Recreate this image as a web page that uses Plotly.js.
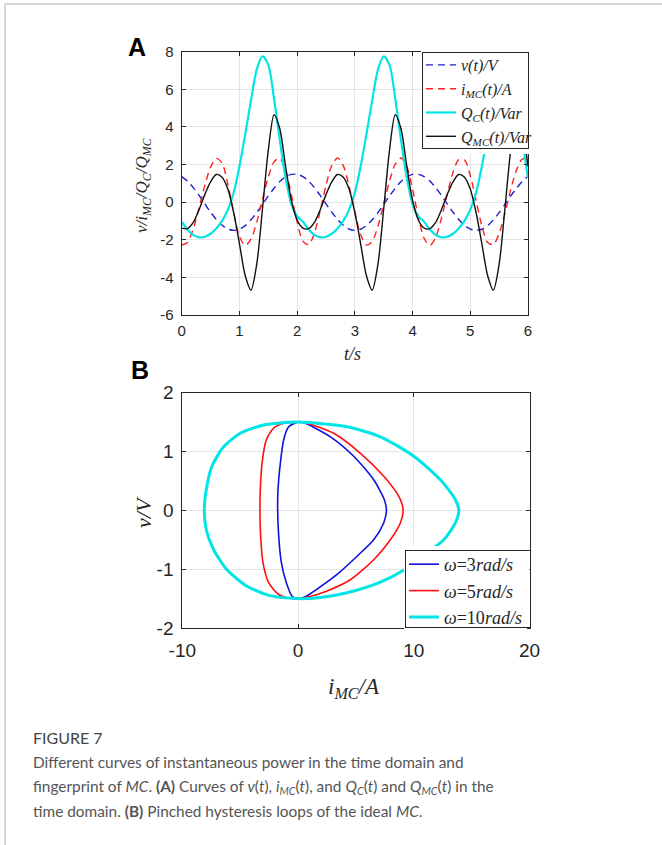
<!DOCTYPE html>
<html>
<head>
<meta charset="utf-8">
<script src="https://cdn.plot.ly/plotly-3.0.1.min.js"></script>
<style>
html,body{margin:0;padding:0;background:#fff;overflow:hidden;}
#chart{position:absolute;left:0;top:0;width:662px;height:845px;}
#frame{position:absolute;left:4px;top:3px;width:700px;height:900px;border-top:2px solid #d6d6d6;border-left:2px solid #d6d6d6;pointer-events:none;z-index:5;}
</style>
</head>
<body>
<div id="chart"></div>
<div id="frame"></div>
<script>
// ---------- Panel A data (time domain) ----------
const tSec = [0,0.1,0.2,0.3,0.4,0.5,0.6,0.7,0.8,0.9,1.0,1.1,1.2,1.3,1.4,1.5,1.6,1.7,1.8,1.9,2.0,
  2.1,2.2,2.3,2.4,2.5,2.6,2.7,2.8,2.9,3.0,3.1,3.2,3.3,3.4,3.5,3.6,3.7,3.8,3.9,4.0,
  4.1,4.2,4.3,4.4,4.5,4.6,4.7,4.8,4.9,5.0,5.1,5.2,5.3,5.4,5.5,5.6,5.7,5.8,5.9,6.0];

const vVolt = [1.36,1.12,0.77,0.36,-0.09,-0.53,-0.92,-1.23,-1.43,-1.50,-1.44,-1.25,-0.94,-0.56,-0.12,0.33,0.74,1.10,1.35,1.48,1.48,
  1.36,1.12,0.77,0.36,-0.09,-0.53,-0.92,-1.23,-1.43,-1.50,-1.44,-1.25,-0.94,-0.56,-0.12,0.33,0.74,1.10,1.35,1.48,
  1.48,1.36,1.12,0.77,0.36,-0.09,-0.53,-0.92,-1.23,-1.43,-1.50,-1.44,-1.25,-0.94,-0.56,-0.12,0.33,0.74,1.10,1.37];

const iMC = [-2.28,-2.14,-1.42,-0.31,0.89,1.86,2.33,2.07,0.96,-0.55,-1.81,-2.30,-1.97,-1.06,0.15,1.33,2.14,2.33,1.69,0.40,-1.05,
  -2.07,-2.26,-1.64,-0.45,0.90,1.95,2.35,1.94,0.85,-0.53,-1.72,-2.28,-2.09,-1.28,-0.10,1.11,2.02,2.35,1.89,0.69,
  -0.78,-1.92,-2.30,-1.87,-0.86,0.41,1.58,2.26,2.24,1.42,0.10,-1.26,-2.14,-2.25,-1.66,-0.60,0.65,1.71,2.29,2.30];

const qC = [-1.04,-1.45,-1.74,-1.87,-1.84,-1.68,-1.40,-1.00,-0.40,0.50,1.90,3.60,5.40,7.05,7.75,7.30,5.50,3.30,1.30,-0.10,-0.75,
  -1.04,-1.45,-1.74,-1.87,-1.84,-1.68,-1.40,-1.00,-0.40,0.50,1.90,3.60,5.40,7.05,7.75,7.30,5.50,3.30,1.30,-0.10,
  -0.75,-1.04,-1.45,-1.74,-1.87,-1.84,-1.68,-1.40,-1.00,-0.40,0.50,1.90,3.60,5.40,7.05,7.75,7.30,5.50,3.30,1.30];

const qMC = [-1.38,-1.41,-1.08,-0.40,0.40,1.08,1.47,1.33,0.70,-0.55,-2.20,-3.90,-4.68,-3.30,-0.35,2.75,4.65,3.90,1.90,0.10,-0.95,
  -1.38,-1.41,-1.08,-0.40,0.40,1.08,1.47,1.33,0.70,-0.55,-2.20,-3.90,-4.68,-3.30,-0.35,2.75,4.65,3.90,1.90,0.10,
  -0.95,-1.38,-1.41,-1.08,-0.40,0.40,1.08,1.47,1.33,0.70,-0.55,-2.20,-3.90,-4.68,-3.30,-0.35,2.75,4.65,3.90,1.90];

const namesA = ['<i>v(t)/V</i>', '<i>i</i><sub><i>MC</i></sub><i>(t)/A</i>',
  '<i>Q</i><sub><i>C</i></sub><i>(t)/Var</i>', '<i>Q</i><sub><i>MC</i></sub><i>(t)/Var</i>'];

const ticksAx = [0,1,2,3,4,5,6];
const ticksAxText = ['0','1','2','3','4','5','6'];
const ticksAy = [-6,-4,-2,0,2,4,6,8];
const ticksAyText = ['-6','-4','-2','0','2','4','6','8'];

// ---------- Panel B data (pinched loops: i_MC on x, v on y) ----------
const loop3_i = [0,0.63,2.8,4.81,6.54,7.46,7.64,7.41,6.54,5.10,3.37,1.64,0.63,0,
  -0.52,-1.01,-1.44,-1.67,-1.76,-1.73,-1.53,-1.24,-0.81,0];
const loop3_v = [1.5,1.48,1.25,0.92,0.52,0.18,0,-0.21,-0.50,-0.78,-1.09,-1.34,-1.47,-1.5,
  -1.46,-1.23,-0.89,-0.44,0,0.35,0.80,1.20,1.42,1.5];

const loop5_i = [0,0.78,3.08,5.39,7.41,8.70,9.08,8.85,7.98,6.54,4.52,2.51,0.92,0,
  -0.81,-1.67,-2.54,-3.03,-3.23,-3.29,-3.26,-3.11,-2.74,-2.10,-1.24,0];
const loop5_v = [1.5,1.48,1.31,0.97,0.58,0.24,0,-0.21,-0.50,-0.84,-1.18,-1.37,-1.47,-1.5,
  -1.49,-1.43,-1.23,-0.89,-0.44,0,0.35,0.80,1.20,1.40,1.48,1.5];

const loop10_i = [0,4.24,7.12,10.0,12.3,13.6,13.89,13.6,12.6,11.15,9.19,7.12,4.24,1.93,0,
  -2.39,-4.41,-6.14,-7.29,-7.93,-8.10,-7.93,-7.44,-6.43,-4.99,-2.97,0];
const loop10_v = [1.5,1.42,1.25,0.92,0.52,0.18,0,-0.21,-0.50,-0.72,-1.01,-1.22,-1.40,-1.48,-1.5,
  -1.45,-1.29,-1.01,-0.67,-0.33,0,0.35,0.75,1.08,1.31,1.45,1.5];

const namesB = ['<i>ω</i>=3<i>rad/s</i>', '<i>ω</i>=5<i>rad/s</i>', '<i>ω</i>=10<i>rad/s</i>'];

const ticksBx = [-10,0,10,20];
const ticksBxText = ['-10','0','10','20'];
const ticksBy = [-2,-1,0,1,2];
const ticksByText = ['-2','-1','0','1','2'];

// ---------- traces ----------
const data = [
  {x:tSec, y:vVolt, name:namesA[0], type:'scatter', mode:'lines', xaxis:'x', yaxis:'y', legend:'legend',
   line:{color:'#1f1fd0', width:1.4, dash:'7px,5px', shape:'spline', smoothing:0.8}},
  {x:tSec, y:iMC, name:namesA[1], type:'scatter', mode:'lines', xaxis:'x', yaxis:'y', legend:'legend',
   line:{color:'#ff2020', width:1.4, dash:'7px,5px', shape:'spline', smoothing:0.8}},
  {x:tSec, y:qC, name:namesA[2], type:'scatter', mode:'lines', xaxis:'x', yaxis:'y', legend:'legend',
   line:{color:'#00e5e5', width:2.2, shape:'spline', smoothing:0.8}},
  {x:tSec, y:qMC, name:namesA[3], type:'scatter', mode:'lines', xaxis:'x', yaxis:'y', legend:'legend',
   line:{color:'#111111', width:1.4, shape:'spline', smoothing:0.8}},
  {x:loop3_i, y:loop3_v, name:namesB[0], type:'scatter', mode:'lines', xaxis:'x2', yaxis:'y2', legend:'legend2',
   line:{color:'#1010e0', width:1.6, shape:'spline', smoothing:0.7}},
  {x:loop5_i, y:loop5_v, name:namesB[1], type:'scatter', mode:'lines', xaxis:'x2', yaxis:'y2', legend:'legend2',
   line:{color:'#ff1010', width:1.6, shape:'spline', smoothing:0.7}},
  {x:loop10_i, y:loop10_v, name:namesB[2], type:'scatter', mode:'lines', xaxis:'x2', yaxis:'y2', legend:'legend2',
   line:{color:'#00e5e5', width:3, shape:'spline', smoothing:0.7}}
];

const W = 662, H = 845;
const axC = '#262626';
const sans = 'Liberation Sans, Arial, sans-serif';
const serif = 'Liberation Serif, Times New Roman, serif';
const tickFontA = {family:sans, size:15, color:axC};
const tickFontB = {family:sans, size:19, color:axC};

function axisBase(extra){
  return Object.assign({
    showline:true, linecolor:axC, linewidth:1, mirror:'ticks',
    ticks:'inside', ticklen:4, tickcolor:axC, tickmode:'array',
    showgrid:true, gridcolor:'#e4e4e4', gridwidth:1, zeroline:false,
    automargin:false, fixedrange:true
  }, extra);
}
function px(x){return x/W;}
function py(y){return 1-y/H;}
function note(text, x, y, font, extra){
  return Object.assign({text:text, xref:'paper', yref:'paper', x:px(x), y:py(y),
    xanchor:'center', yanchor:'middle', showarrow:false, font:font}, extra||{});
}
// empty annotation used only as a box outline drawn above the legend background
function box(x0, y0, x1, y1){
  return {text:'\u00a0', xref:'paper', yref:'paper', x:px(x0), y:py(y0), xanchor:'left', yanchor:'top',
    width:x1-x0-1, height:y1-y0-1, borderpad:0, borderwidth:1, bordercolor:axC,
    bgcolor:'rgba(0,0,0,0)', showarrow:false, font:{size:8}};
}
const capFont = {family:'Lato, sans-serif', size:15.4, color:'#555555'};

const layout = {
  width:W, height:H,
  margin:{l:0, r:0, t:0, b:0},
  paper_bgcolor:'#ffffff', plot_bgcolor:'#ffffff',
  showlegend:true,
  xaxis: axisBase({domain:[px(181.7), px(528)], anchor:'y', range:[0,6],
    tickvals:ticksAx, ticktext:ticksAxText, tickfont:tickFontA, ticklabelstandoff:2}),
  yaxis: axisBase({domain:[py(315), py(51.7)], anchor:'x', range:[-6,8],
    tickvals:ticksAy, ticktext:ticksAyText, tickfont:tickFontA, ticklabelstandoff:4}),
  xaxis2: axisBase({domain:[px(182.3), px(529.5)], anchor:'y2', range:[-10,20],
    tickvals:ticksBx, ticktext:ticksBxText, tickfont:tickFontB, ticklabelstandoff:5}),
  yaxis2: axisBase({domain:[py(628), py(392.7)], anchor:'x2', range:[-2,2],
    tickvals:ticksBy, ticktext:ticksByText, tickfont:tickFontB, ticklabelstandoff:4}),
  legend:{x:px(421), xanchor:'left', y:py(48), yanchor:'top', bgcolor:'#ffffff',
    borderwidth:0, font:{family:serif, size:16, color:axC},
    tracegroupgap:0, itemwidth:30, traceorder:'normal'},
  legend2:{x:px(404), xanchor:'left', y:py(546), yanchor:'top', bgcolor:'#ffffff',
    borderwidth:0, font:{family:serif, size:18, color:axC},
    tracegroupgap:0, itemwidth:30, traceorder:'normal'},
  shapes:[
    {type:'rect', xref:'paper', yref:'paper', x0:px(421.7), x1:px(528), y0:py(148), y1:py(51.7),
     fillcolor:'#ffffff', line:{width:0}, layer:'above'},
    {type:'rect', xref:'paper', yref:'paper', x0:px(405), x1:px(529.5), y0:py(627), y1:py(550),
     fillcolor:'#ffffff', line:{width:0}, layer:'above'}
  ],
  annotations:[
    box(421.7, 51.7, 528, 148),
    box(405, 550, 529.5, 627),
    note('<b>A</b>', 137, 47, {family:sans, size:25, color:'#000'}),
    note('<b>B</b>', 140, 370, {family:sans, size:25, color:'#000'}),
    note('<i>v/i</i><sub><i>MC</i></sub><i>/Q</i><sub><i>C</i></sub><i>/Q</i><sub><i>MC</i></sub>', 143, 185,
      {family:serif, size:17, color:axC}, {textangle:-90}),
    note('<i>t/s</i>', 353, 354, {family:serif, size:18, color:axC}),
    note('<i>v/V</i>', 143, 512, {family:serif, size:22, color:axC}, {textangle:-90}),
    note('<i>i</i><sub><i>MC</i></sub><i>/A</i>', 354, 688, {family:serif, size:23, color:axC}),
    note('FIGURE 7', 31, 737, {family:'Lato, sans-serif', size:16, color:'#454545'}, {xanchor:'left'}),
    note('Different curves of instantaneous power in the time domain and', 31, 762, capFont, {xanchor:'left'}),
    note('fingerprint of <i>MC</i>. <b>(A)</b> Curves of <i>v</i>(<i>t</i>), <i>i</i><sub><i>MC</i></sub>(<i>t</i>), and <i>Q</i><sub><i>C</i></sub>(<i>t</i>) and <i>Q</i><sub><i>MC</i></sub>(<i>t</i>) in the',
      31, 787, capFont, {xanchor:'left'}),
    note('time domain. <b>(B)</b> Pinched hysteresis loops of the ideal <i>MC</i>.', 31, 811, capFont, {xanchor:'left'})
  ]
};

Plotly.newPlot('chart', data, layout, {staticPlot:true, displayModeBar:false});
</script>
</body>
</html>
